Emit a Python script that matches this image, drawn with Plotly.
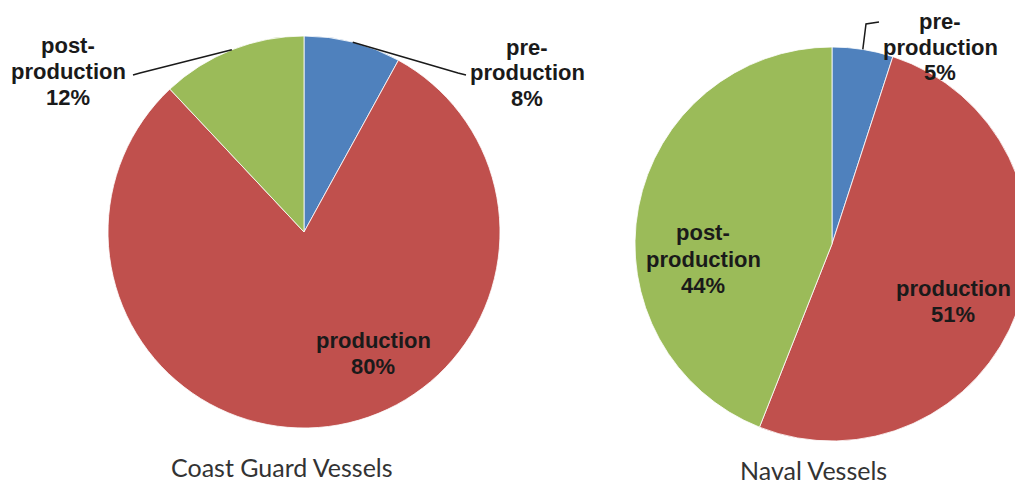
import math
import plotly.graph_objects as go

# ---- data ----
phases = ["pre-production", "production", "post-production"]
coast_guard_values = [8, 80, 12]
naval_values = [5, 51, 44]
chart_titles = ["Coast Guard Vessels", "Naval Vessels"]
phase_colors = ["#4F81BD", "#C0504D", "#9BBB59"]

# ---- layout helpers (pixels -> paper) ----
W, H = 1040, 487
def px(x):
    return x / W
def py(y):
    return 1 - y / H

pies = [
    dict(values=coast_guard_values, cx=304, cy=232, r=196),
    dict(values=naval_values, cx=832, cy=244, r=197),
]

fig = go.Figure()
for p in pies:
    fig.add_trace(go.Pie(
        labels=phases, values=p["values"], sort=False, direction="clockwise",
        rotation=0, textinfo="none", hoverinfo="label+percent", showlegend=False,
        marker=dict(colors=phase_colors, line=dict(color="rgba(255,255,255,0.8)", width=1)),
        domain=dict(x=[px(p["cx"] - p["r"]), px(p["cx"] + p["r"])],
                    y=[py(p["cy"] + p["r"]), py(p["cy"] - p["r"])]),
    ))

def split_label(name):
    if "-" in name:
        a, b = name.split("-", 1)
        return [a + "-", b]
    return [name]

annotations = []
label_font = dict(family="Liberation Sans, Arial, sans-serif", size=22, color="#1a1a1a")
SP = 26

def add_label(lines, cx, cy):
    n = len(lines)
    for i, t in enumerate(lines):
        y = cy + (i - (n - 1) / 2) * SP
        annotations.append(dict(text="<b>%s</b>" % t, x=px(cx), y=py(y), xref="paper", yref="paper",
                                xanchor="center", yanchor="middle", showarrow=False, font=label_font))

# label block centers (pixels) for each pie / phase
label_pos = [
    [(527, 73), (373, 353), (68, 72)],
    [(940, 47), (953, 301), (703, 259)],
]
for p, poss, vals in zip(pies, label_pos, [coast_guard_values, naval_values]):
    total = sum(vals)
    for name, v, (cx, cy) in zip(phases, vals, poss):
        add_label(split_label(name) + ["%d%%" % round(100 * v / total)], cx, cy)

# leader lines: start at slice mid-angle on the rim
def rim_point(p, idx):
    vals = p["values"]
    total = sum(vals)
    start = sum(vals[:idx])
    mid = (start + vals[idx] / 2) / total * 2 * math.pi
    return p["cx"] + p["r"] * math.sin(mid), p["cy"] - p["r"] * math.cos(mid)

leaders = [
    (0, 0, [(458, 73), (466, 75)]),
    (0, 2, [(140, 73), (133, 75)]),
    (1, 0, [(866, 24), (879, 22)]),
]
shapes = []
for pi, idx, pts in leaders:
    sx, sy = rim_point(pies[pi], idx)
    path_pts = [(sx, sy)] + pts
    d = "M " + " L ".join("%f,%f" % (px(x), py(y)) for x, y in path_pts)
    shapes.append(dict(type="path", path=d, xref="paper", yref="paper",
                       line=dict(color="#1a1a1a", width=1.5)))

title_font = dict(family="Lato, Open Sans, sans-serif", size=25, color="#333333")
for t, (x, y) in zip(chart_titles, [(282, 467), (813, 470)]):
    annotations.append(dict(text=t, x=px(x), y=py(y), xref="paper", yref="paper",
                            xanchor="center", yanchor="middle", showarrow=False, font=title_font))

fig.update_layout(width=W, height=H, margin=dict(l=0, r=0, t=0, b=0),
                  paper_bgcolor="white", plot_bgcolor="white",
                  annotations=annotations, shapes=shapes)

fig.write_html("out.html", post_script="document.body.style.margin='0';document.body.style.overflow='hidden';document.documentElement.style.overflow='hidden';")
